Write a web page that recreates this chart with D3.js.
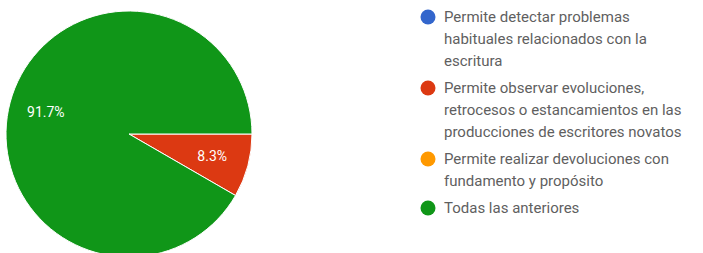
<!DOCTYPE html>
<html>
<head>
  <meta charset="utf-8">
  <script src="https://cdnjs.cloudflare.com/ajax/libs/d3/7.8.5/d3.min.js"></script>
  <style>
    body { margin: 0; background: #fff; }
    text { font-family: Roboto, Arial, sans-serif; }
  </style>
</head>
<body>
<script>
// answer options, responses and colours (google forms summary)
const categories = [
  ["Permite detectar problemas", "habituales relacionados con la", "escritura"],
  ["Permite observar evoluciones,", "retrocesos o estancamientos en las", "producciones de escritores novatos"],
  ["Permite realizar devoluciones con", "fundamento y propósito"],
  ["Todas las anteriores"]
];
const counts = [0, 1, 0, 11];
const colors = ["#3366cc", "#dc3912", "#ff9900", "#109618"];

const width = 703, height = 253;
const svg = d3.select("body").append("svg")
    .attr("width", width)
    .attr("height", height);

const cx = 129, cy = 134, radius = 123;
const total = d3.sum(counts);

const pie = d3.pie()
    .sort(null)
    .value(d => d)
    .startAngle(Math.PI / 2)
    .endAngle(Math.PI / 2 + 2 * Math.PI);

const arc = d3.arc().innerRadius(0).outerRadius(radius);
const labelArc = d3.arc().innerRadius(radius * 0.7).outerRadius(radius * 0.7);

const g = svg.append("g").attr("transform", "translate(" + cx + "," + cy + ")");

const slices = pie(counts).filter(d => d.value > 0);

g.selectAll("path")
  .data(slices)
  .enter().append("path")
  .attr("d", arc)
  .attr("fill", d => colors[d.index])
  .attr("stroke", "#fff")
  .attr("stroke-width", 1);

g.selectAll("text.pct")
  .data(slices)
  .enter().append("text")
  .attr("class", "pct")
  .attr("transform", d => "translate(" + labelArc.centroid(d) + ")")
  .attr("dy", "0.35em")
  .attr("text-anchor", "middle")
  .attr("fill", "#fff")
  .style("font-size", "14px")
  .text(d => (d.value / total * 100).toFixed(1) + "%");

// legend
const lineH = 22, itemGap = 5;
let y = 17;
const legend = svg.append("g");
categories.forEach((lines, i) => {
  legend.append("circle")
    .attr("cx", 428)
    .attr("cy", y)
    .attr("r", 7.5)
    .attr("fill", colors[i]);
  lines.forEach((t, j) => {
    legend.append("text")
      .attr("x", 444)
      .attr("y", y + j * lineH)
      .attr("dy", "0.35em")
      .attr("fill", "#5f5f5f")
      .style("font-size", "15px")
      .text(t);
  });
  y += lines.length * lineH + itemGap;
});
</script>
</body>
</html>
